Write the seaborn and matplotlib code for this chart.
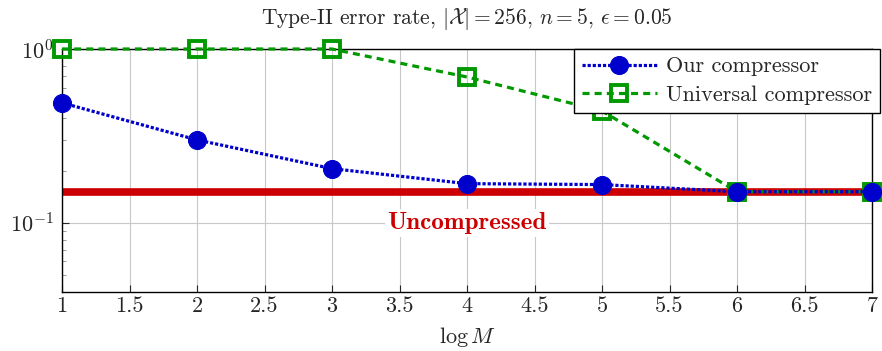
import matplotlib
matplotlib.use("Agg")
import matplotlib.pyplot as plt
import seaborn as sns
import pandas as pd

# data
log_m = [1, 2, 3, 4, 5, 6, 7]
ours = [0.49, 0.30, 0.205, 0.168, 0.166, 0.151, 0.151]
universal = [1.0, 1.0, 1.0, 0.69, 0.44, 0.151, 0.151]
uncompressed = 0.15

BLUE = "#0000cc"
GREEN = "#009900"
RED = "#cc0000"
FS = 16

sns.set_style("ticks")
plt.rcParams["font.family"] = ["cmr10", "DejaVu Serif"]
plt.rcParams["mathtext.fontset"] = "cm"
plt.rcParams["axes.formatter.use_mathtext"] = True
plt.rcParams["font.size"] = FS

df = pd.DataFrame({"log M": log_m * 2,
                   "err": ours + universal,
                   "series": ["Our compressor"] * 7 + ["Universal compressor"] * 7})

fig = plt.figure(figsize=(8.82, 3.51), dpi=100)
ax = fig.add_axes([62 / 882, 59 / 351, 810 / 882, 243 / 351])

ax.axhline(uncompressed, color=RED, lw=5.5, zorder=2)

sns.lineplot(data=df[df.series == "Our compressor"], x="log M", y="err", ax=ax,
             color=BLUE, lw=2.3, linestyle=(0, (1, 0.6)), marker="o", markersize=13,
             markeredgecolor=BLUE, markerfacecolor=BLUE, label="Our compressor",
             zorder=4, clip_on=False)
sns.lineplot(data=df[df.series == "Universal compressor"], x="log M", y="err", ax=ax,
             color=GREEN, lw=2.3, linestyle=(0, (2.2, 1.6)), marker="s", markersize=11,
             markeredgewidth=2.8, markeredgecolor=GREEN, markerfacecolor="none",
             label="Universal compressor", zorder=3, clip_on=False)

ax.set_yscale("log")
ax.set_xlim(1, 7)
ax.set_ylim(0.04, 1.0)
ax.set_xticks([1 + 0.5 * i for i in range(13)])
ax.set_xticklabels(["1", "1.5", "2", "2.5", "3", "3.5", "4", "4.5", "5", "5.5", "6", "6.5", "7"])
ax.grid(True, which="major", color="#c8c8c8", lw=0.8)
ax.set_axisbelow(True)
ax.tick_params(which="both", direction="in", top=False, right=False, labelsize=FS)
ax.tick_params(which="major", length=5)
ax.tick_params(axis="y", pad=6)
ax.tick_params(which="minor", length=3, color="#888888")
for s in ax.spines.values():
    s.set_linewidth(1.0)
    s.set_color("black")

ax.text(4, 0.1, "Uncompressed", color=RED, fontsize=18, family=["cmb10", "DejaVu Serif"],
        ha="center", va="center", zorder=5,
        bbox=dict(facecolor="white", edgecolor="none", pad=2))

ax.set_xlabel(r"$\log M$", fontsize=FS, labelpad=6)
ax.set_ylabel("")
ax.set_title(r"Type-II error rate, $|\mathcal{X}|=256$, $n=5$, $\epsilon=0.05$", fontsize=15.5, pad=18)

leg = ax.legend(loc="upper right", bbox_to_anchor=(880 / 882, 1 - 49 / 351),
                bbox_transform=fig.transFigure, borderaxespad=0, fancybox=False,
                framealpha=1, edgecolor="black", fontsize=FS, handlelength=3.4,
                borderpad=0.35, labelspacing=0.4, handletextpad=0.4)
leg.get_frame().set_linewidth(1.0)
leg.set_zorder(10)

fig.savefig("out.png", dpi=100)
